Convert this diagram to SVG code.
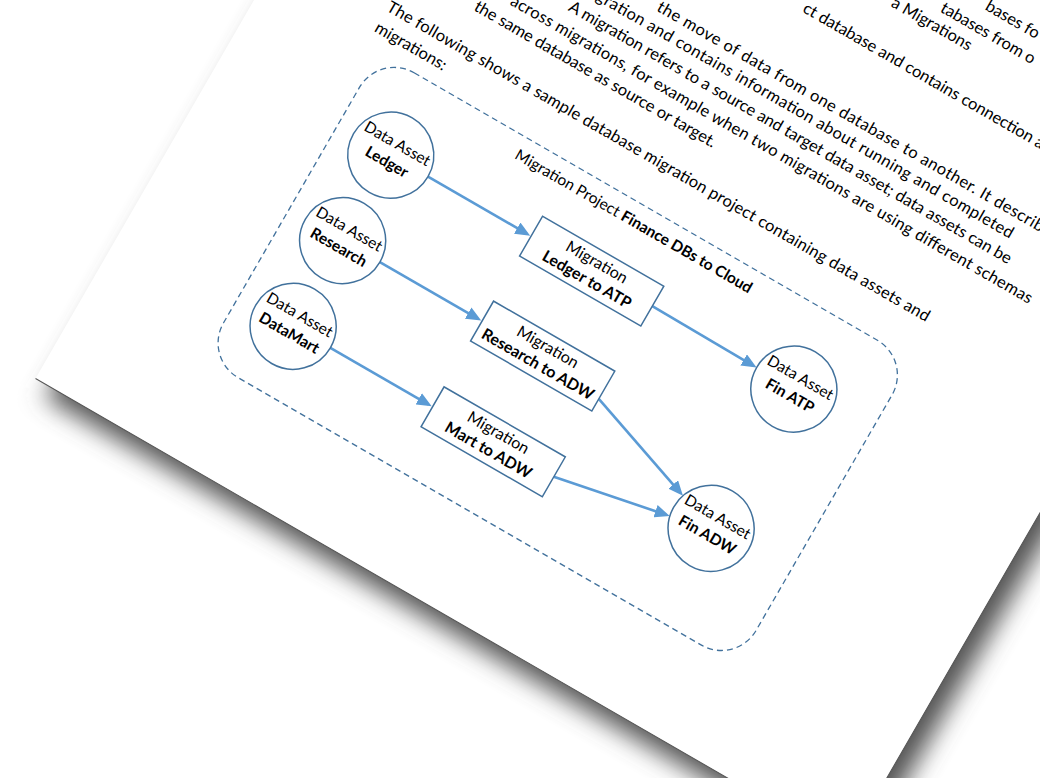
<svg xmlns="http://www.w3.org/2000/svg" width="1040" height="778" viewBox="0 0 1040 778">
<style>
.txt{font-family:Lato,"Open Sans","Liberation Sans",sans-serif;font-size:16.5px;fill:#000}
.dt{font-family:Lato,"Open Sans","Liberation Sans",sans-serif;font-size:15.5px;fill:#000;text-anchor:middle}
.mt{font-size:16px}
.b{font-weight:bold}
.node{fill:#fff;stroke:#41719C;stroke-width:1.5}
.dash{fill:none;stroke:#41719C;stroke-width:1.3;stroke-dasharray:6 4}
.conn{fill:none;stroke:#5B9BD5;stroke-width:2.6}
</style>
<defs>
<filter id="sh" x="-10%" y="-10%" width="120%" height="120%"><feGaussianBlur stdDeviation="12"/></filter>
<marker id="ah" markerWidth="15" markerHeight="13" refX="11" refY="6.5" orient="auto" markerUnits="userSpaceOnUse"><path d="M0,0 L15,6.5 L0,13 z" fill="#5B9BD5"/></marker>
</defs>
<rect width="1040" height="778" fill="#fff"/>
<g transform="rotate(30)">
<rect id="shadow" x="238" y="-890" width="937" height="1212" fill="#555" filter="url(#sh)"/>
<rect id="page" x="220" y="-900" width="937" height="1210" fill="#fff"/>
<path d="M220,310 L1157,310 L1157,-900" fill="none" stroke="#555" stroke-width="1"/>
<g id="body-text" class="txt">
<text x="857" y="-484">bases fo</text>
<text x="819" y="-460">tabases from o</text>
<text x="864" y="-440" text-anchor="end">a Migrations</text>
<text x="700" y="-391">ct database and contains connection a</text>
<text x="573" y="-319" textLength="461" lengthAdjust="spacing">the move of data from one database to another. It describes</text>
<text x="515" y="-298" textLength="479" lengthAdjust="spacing">gration and contains information about running and completed</text>
<text x="1005" y="-275" text-anchor="end">A migration refers to a source and target data asset; data assets can be</text>
<text x="443" y="-251" textLength="600" lengthAdjust="spacing">across migrations, for example when two migrations are using different schemas</text>
<text x="691" y="-228" text-anchor="end">the same database as source or target.</text>
<text x="339" y="-184" textLength="624" lengthAdjust="spacing">The following shows a sample database migration project containing data assets and</text>
<text x="339" y="-160">migrations:</text>
</g>
<g id="project">
<rect x="355" y="-144" width="615" height="352" rx="40" class="dash"/>
<text class="dt" x="659.5" y="-120">Migration Project <tspan class="b">Finance DBs to Cloud</tspan></text>
</g>
<g id="connectors">
<path class="conn" marker-end="url(#ah)" d="M459,-61 L573,-61"/>
<path class="conn" marker-end="url(#ah)" d="M718,-61 L835,-60"/>
<path class="conn" marker-end="url(#ah)" d="M460,37 L573,37"/>
<path class="conn" marker-end="url(#ah)" d="M460,136 L573,136"/>
<path class="conn" marker-end="url(#ah)" d="M718,46 L835.6,86.6"/>
<path class="conn" marker-end="url(#ah)" d="M718,136 L834.1,112.8"/>
</g>
<g id="ledger"><circle class="node" cx="416" cy="-61" r="43"/><text class="dt" x="416" y="-69">Data Asset</text><text class="dt b" x="416" y="-48">Ledger</text></g>
<g id="research"><circle class="node" cx="417" cy="37" r="43"/><text class="dt" x="417" y="29">Data Asset</text><text class="dt b" x="417" y="50">Research</text></g>
<g id="datamart"><circle class="node" cx="417" cy="136" r="43"/><text class="dt" x="417" y="128">Data Asset</text><text class="dt b" x="417" y="149">DataMart</text></g>
<g id="finatp"><circle class="node" cx="882" cy="-60" r="43"/><text class="dt" x="882" y="-68">Data Asset</text><text class="dt b" x="882" y="-47">Fin ATP</text></g>
<g id="finadw"><circle class="node" cx="880" cy="102" r="43"/><text class="dt" x="880" y="94">Data Asset</text><text class="dt b" x="880" y="115">Fin ADW</text></g>
<g id="mig-ledger"><rect class="node" x="578" y="-84" width="140" height="46"/><text class="dt mt" x="648" y="-66">Migration</text><text class="dt mt b" x="648" y="-46">Ledger to ATP</text></g>
<g id="mig-research"><rect class="node" x="578" y="14" width="140" height="46"/><text class="dt mt" x="648" y="32">Migration</text><text class="dt mt b" x="648" y="52">Research to ADW</text></g>
<g id="mig-mart"><rect class="node" x="578" y="113" width="140" height="46"/><text class="dt mt" x="648" y="131">Migration</text><text class="dt mt b" x="648" y="151">Mart to ADW</text></g>
</g>
</svg>
